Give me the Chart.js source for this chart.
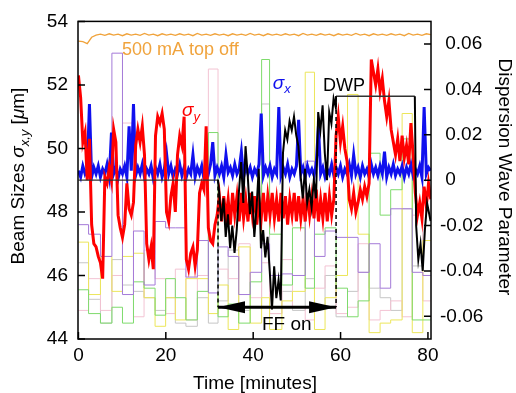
<!DOCTYPE html>
<html>
<head>
<meta charset="utf-8">
<script src="https://cdn.jsdelivr.net/npm/chart.js@4.4.0/dist/chart.umd.min.js"></script>
<style>
  html, body { margin: 0; padding: 0; background: #fff; }
  #wrap { width: 516px; height: 393px; }
</style>
</head>
<body>
<div id="wrap"><canvas id="beamChart" width="516" height="393"></canvas></div>
<script>
// sampling of the beam size monitors, minutes
const sampleStep = 0.504;
const sampleTimes = Array.from({ length: 161 }, (_, i) => +(i * sampleStep).toFixed(3));
const minuteTimes = sampleTimes.filter((_, i) => i % 2 === 0);

// sigma_y [um]
const sigmaY = [
  52.3, 51.6, 50.2, 50.5, 49.0, 50.3, 47.6, 47.0, 46.9, 46.6,
  46.4, 45.9, 49.1, 48.9, 49.4, 49.0, 50.6, 50.2, 47.9, 47.5,
  47.2, 47.6, 48.9, 48.1, 47.9, 48.3, 50.1, 50.6, 50.2, 50.7,
  49.8, 47.0, 46.5, 46.9, 46.2, 50.4, 51.0, 50.8, 51.1, 50.6,
  48.0, 47.7, 48.5, 48.9, 48.0, 49.8, 50.4, 50.1, 51.0, 46.5,
  46.2, 46.7, 46.9, 46.3, 46.8, 48.6, 48.9, 48.7, 50.7, 47.5,
  47.1, 47.0, 47.6, 47.9, 48.5, 47.7, 48.5, 47.8, 48.4, 47.6,
  48.6, 47.9, 48.5, 47.7, 48.6, 47.8, 48.4, 47.7, 48.6, 47.9,
  48.5, 47.6, 48.4, 47.8, 48.6, 47.7, 48.5, 47.9, 48.6, 47.8,
  48.4, 47.7, 48.6, 47.8, 48.5, 47.6, 48.4, 47.9, 48.6, 47.7,
  48.5, 47.8, 48.4, 47.7, 48.6, 47.9, 48.5, 47.8, 48.7, 47.7,
  48.4, 47.8, 48.6, 47.7, 48.5, 47.9, 48.4, 50.4, 51.0, 50.2,
  50.7, 50.0, 49.6, 48.4, 48.1, 48.6, 48.0, 48.3, 48.7, 48.4,
  48.8, 48.5, 48.9, 52.8, 52.4, 52.0, 52.5, 51.8, 52.2, 51.5,
  51.0, 51.5, 50.6, 50.2, 49.8, 50.3, 49.6, 50.4, 49.7, 50.1,
  49.5, 50.8, 49.8, 48.6, 47.9, 48.3, 47.8, 48.8, 48.2, 48.9,
  48.4
];

// sigma_x [um]
const sigmaX = [
  49.3, 49.1, 49.45, 49.2, 49.35, 51.4, 49.1, 49.4, 49.2, 49.45,
  49.1, 49.35, 49.2, 49.5, 49.1, 50.5, 49.2, 49.4, 49.05, 49.35,
  49.2, 49.45, 49.1, 50.7, 49.3, 51.4, 49.15, 49.4, 49.2, 49.5,
  49.1, 49.35, 49.2, 49.45, 49.05, 49.4, 49.2, 49.5, 49.1, 49.35,
  49.85, 49.2, 49.45, 49.1, 49.35, 49.2, 49.5, 49.15, 49.4, 49.1,
  49.35, 49.2, 49.8, 49.1, 49.4, 49.2, 49.45, 49.05, 49.35, 49.2,
  49.5, 50.2, 49.15, 49.4, 49.2, 49.45, 49.1, 49.8, 49.25, 49.4,
  49.15, 49.5, 49.2, 49.35, 49.9, 49.1, 49.45, 49.2, 49.4, 49.1,
  49.35, 49.2, 49.5, 51.1, 49.15, 49.4, 49.2, 49.45, 49.1, 49.35,
  49.2, 51.3, 49.15, 49.4, 49.2, 49.5, 49.1, 49.35, 49.2, 49.45,
  50.9, 49.2, 49.4, 49.1, 49.45, 49.2, 49.35, 49.15, 49.5, 50.7,
  49.2, 49.4, 49.1, 49.35, 49.2, 49.5, 49.15, 49.4, 49.2, 49.45,
  49.1, 49.35, 49.2, 49.5, 49.15, 49.8, 49.2, 49.4, 49.1, 49.45,
  49.2, 49.35, 49.1, 49.5, 49.2, 49.4, 49.15, 49.45, 49.2, 49.9,
  49.1, 49.4, 49.2, 49.5, 49.15, 49.35, 49.2, 49.45, 49.1, 49.4,
  49.2, 49.5, 49.15, 49.35, 49.2, 49.45, 49.1, 51.3, 49.2, 49.4,
  49.3
];

// 500 mA top off current trace (plotted on the beam size axis)
const topOff = [
  53.38, 53.36, 53.30, 53.50, 53.57, 53.6, 53.56, 53.61, 53.57, 53.6,
  53.55, 53.61, 53.57, 53.6, 53.56, 53.62, 53.57, 53.6, 53.55, 53.61,
  53.57, 53.6, 53.56, 53.61, 53.57, 53.6, 53.55, 53.62, 53.57, 53.6,
  53.56, 53.61, 53.57, 53.6, 53.55, 53.61, 53.57, 53.6, 53.56, 53.62,
  53.57, 53.6, 53.55, 53.61, 53.57, 53.6, 53.56, 53.61, 53.57, 53.6,
  53.55, 53.62, 53.57, 53.6, 53.56, 53.61, 53.57, 53.6, 53.55, 53.61,
  53.57, 53.6, 53.56, 53.62, 53.57, 53.6, 53.55, 53.61, 53.57, 53.6,
  53.56, 53.61, 53.57, 53.6, 53.55, 53.62, 53.57, 53.6, 53.56, 53.61,
  53.58
];

// dispersion wave parameter (right axis)
const dwpTimes = [
  0, 31.95,
  32.20, 32.70, 33.21, 33.71, 34.22, 34.72, 35.22, 35.73, 36.23, 36.74,
  37.24, 37.74, 38.25, 38.75, 39.26, 39.76, 40.26, 40.77, 41.27, 41.78,
  42.28, 42.78, 43.29, 43.79, 44.30, 44.80, 45.30, 45.81, 46.31, 46.82,
  47.32, 47.82, 48.33, 48.83, 49.34, 49.84, 50.34, 50.85, 51.35, 51.86,
  52.36, 52.86, 53.37, 53.87, 54.38, 54.88, 55.38, 55.89, 56.39, 56.90,
  57.40, 57.90, 58.41, 58.91,
  58.97, 77.0,
  77.3, 77.8, 78.3, 78.8, 79.3, 79.8, 80.6
];
const dwpValues = [
  0, 0,
  -0.005, -0.018, -0.008, -0.025, -0.015, -0.03, -0.02, -0.032, -0.022, -0.005,
  0.008, -0.01, 0.015, 0.002, -0.015, -0.005, -0.025, -0.012, 0.005, -0.03,
  -0.022, -0.034, -0.025, -0.04, -0.057, -0.038, -0.052, -0.044, -0.053, 0.012,
  0.022, 0.018, 0.026, 0.022, 0.028, 0.02, 0.015, 0.002, -0.008, 0.005,
  -0.01, -0.004, -0.012, 0, -0.008, 0.03, 0.022, 0.033, 0.012, 0,
  0.03, 0.025, 0.036, 0.032,
  0.037, 0.037,
  -0.02, -0.035, -0.028, -0.04, -0.022, -0.01, -0.018
];

// knob settings, held between change times
const knobTimes = [0, 2.32, 5.04, 7.66, 10.08, 12.6, 15.02, 17.54, 19.96, 22.18, 24.6, 27.22,
  29.74, 31.95, 34.27, 36.69, 39.31, 41.93, 43.75, 46.57, 48.99, 51.91, 54.03, 56.45, 58.97,
  61.59, 64.01, 66.53, 69.05, 71.47, 74.09, 76.41, 78.83, 80.64];
const knobPurple = [47.6, 47.3, 46.6, 53.0, 45.4, 47.4, 45.7, 47.7, 47.5, 47.5, 45.95, 47.1, 45.45,
  46.9, 46.6, 45.4, 46.1, 47.0, 46.0, 46.05, 46.0, 49.6, 46.6, 47.4, 47.2, 47.2, 46.1, 47.0, 45.6,
  48.1, 48.1, 46.1, 46.0];
const knobGreen = [45.55, 44.8, 44.5, 45.0, 44.5, 45.8, 45.6, 44.75, 45.9, 45.3, 44.6, 45.5, 50.5,
  44.7, 45.1, 44.5, 45.8, 52.8, 47.3, 45.7, 47.5, 45.6, 47.3, 47.5, 45.6, 44.7, 45.2, 49.85, 47.9,
  48.7, 50.3, 44.6, 44.6];
const knobYellow = [47.05, 45.4, 46.6, 45.5, 46.6, 46.7, 45.3, 44.4, 45.3, 44.6, 45.9, 45.9, 44.8,
  45.7, 44.3, 46.9, 44.5, 45.3, 44.3, 45.2, 45.5, 52.4, 44.3, 45.3, 46.0, 51.7, 47.3, 44.2, 44.5,
  44.6, 51.1, 44.2, 47.1];
const knobPink = [44.9, 45.9, 44.9, 46.0, 50.8, 44.7, 46.8, 45.9, 44.8, 46.2, 44.6, 46.0, 52.5,
  46.2, 45.9, 47.0, 45.3, 46.4, 44.8, 46.5, 45.0, 44.6, 45.6, 46.3, 44.8, 45.0, 47.0, 44.6, 44.9,
  45.2, 44.7, 47.9, 45.2];
const knobGray = [46.4, 45.25, 44.5, 46.5, 45.7, 45.5, 45.3, 44.9, 45.3, 44.5, 44.4, 45.3, 44.5,
  45.2, 46.8, 44.9, 45.0, 51.4, 44.8, 45.5, 44.9, 45.9, 45.0, 46.0, 44.7, 45.5, 46.1, 45.6, 45.3,
  44.9, 48.1, 46.3, 49.0];

// feed-forward on interval
const ffOnStart = 31.95;
const ffOnEnd = 58.97;
const ffArrowLevel = 45.0;
const ffMarkTops = [49.02, 51.65];

const timeTicks = [0, 20, 40, 60, 80];
const sizeTicks = [44, 46, 48, 50, 52, 54];
const dwpTicks = [-0.06, -0.04, -0.02, 0, 0.02, 0.04, 0.06];

const FONT = '"Liberation Sans", Arial, Helvetica, sans-serif';
Chart.defaults.font.family = FONT;
Chart.defaults.color = '#000';

const xy = (xs, ys) => xs.map((x, i) => ({ x: x, y: ys[i] }));
const steps = vals => knobTimes.map((x, i) => ({ x: x, y: vals[Math.min(i, vals.length - 1)] }));

function line(data, color, width, axis, extra) {
  return Object.assign({
    data: data, borderColor: color, borderWidth: width, yAxisID: axis,
    pointRadius: 0, fill: false, tension: 0, borderJoinStyle: 'miter'
  }, extra || {});
}

// draws text made of several font runs
function drawRuns(ctx, runs, x, y, centered) {
  let total = 0;
  runs.forEach(r => { ctx.font = r[1]; total += ctx.measureText(r[0]).width; });
  let cx = centered ? x - total / 2 : x;
  runs.forEach(r => {
    ctx.font = r[1];
    ctx.fillText(r[0], cx, y + (r[2] || 0));
    cx += ctx.measureText(r[0]).width;
  });
}

const decorations = {
  id: 'decorations',
  afterDatasetsDraw(chart) {
    const { ctx, chartArea: a } = chart;
    const { x, y, y2 } = chart.scales;
    ctx.save();
    ctx.strokeStyle = '#000';
    ctx.lineWidth = 1.5;
    ctx.strokeRect(a.left, a.top, a.right - a.left, a.bottom - a.top);

    // inward tick marks
    ctx.beginPath();
    timeTicks.forEach(v => { const p = x.getPixelForValue(v); ctx.moveTo(p, a.bottom); ctx.lineTo(p, a.bottom - 7); });
    sizeTicks.forEach(v => { const p = y.getPixelForValue(v); ctx.moveTo(a.left, p); ctx.lineTo(a.left + 7, p); });
    dwpTicks.forEach(v => { const p = y2.getPixelForValue(v); ctx.moveTo(a.right, p); ctx.lineTo(a.right - 7, p); });
    ctx.stroke();

    // arrow heads of the FF on span
    const ay = y.getPixelForValue(ffArrowLevel);
    ctx.fillStyle = '#000';
    [[x.getPixelForValue(ffOnStart), 1], [x.getPixelForValue(ffOnEnd), -1]].forEach(([tip, dir]) => {
      ctx.beginPath();
      ctx.moveTo(tip, ay);
      ctx.lineTo(tip + dir * 27, ay - 6);
      ctx.lineTo(tip + dir * 27, ay + 6);
      ctx.closePath();
      ctx.fill();
    });

    // labels inside the plot
    ctx.textBaseline = 'alphabetic';
    ctx.textAlign = 'left';
    ctx.fillStyle = '#f0a33c';
    ctx.font = '18px ' + FONT;
    ctx.fillText('500 mA top off', x.getPixelForValue(9.97), y.getPixelForValue(52.95));

    ctx.fillStyle = '#f00';
    drawRuns(ctx, [['σ', 'italic 19px ' + FONT], ['y', 'italic 13px ' + FONT, 5]],
      x.getPixelForValue(23.7), y.getPixelForValue(51.03));

    ctx.fillStyle = '#1010ee';
    drawRuns(ctx, [['σ', 'italic 19px ' + FONT], ['x', 'italic 13px ' + FONT, 4]],
      x.getPixelForValue(44.5), y.getPixelForValue(51.86));

    ctx.fillStyle = '#000';
    ctx.font = '18px ' + FONT;
    ctx.fillText('DWP', x.getPixelForValue(56.0), y.getPixelForValue(51.8));
    ctx.font = '19px ' + FONT;
    ctx.fillText('FF on', x.getPixelForValue(42.0), y.getPixelForValue(44.28));
    ctx.restore();
  },
  afterDraw(chart) {
    const ctx = chart.ctx;
    ctx.save();
    ctx.fillStyle = '#000';
    ctx.textBaseline = 'alphabetic';
    ctx.textAlign = 'left';

    // left axis title
    ctx.save();
    ctx.translate(24, 176);
    ctx.rotate(-Math.PI / 2);
    drawRuns(ctx, [
      ['Beam Sizes ', '19px ' + FONT],
      ['σ', 'italic 19px ' + FONT],
      ['x,y', 'italic 13px ' + FONT, 5],
      [' [', '19px ' + FONT],
      ['μ', 'italic 19px ' + FONT],
      ['m]', '19px ' + FONT]
    ], 0, 0, true);
    ctx.restore();

    // right axis title
    ctx.save();
    ctx.translate(499, 177);
    ctx.rotate(Math.PI / 2);
    drawRuns(ctx, [['Dispersion Wave Parameter', '19px ' + FONT]], 0, 0, true);
    ctx.restore();

    // bottom axis title
    drawRuns(ctx, [['Time [minutes]', '19px ' + FONT]], 255, 389, true);
    ctx.restore();
  }
};

new Chart(document.getElementById('beamChart'), {
  type: 'line',
  data: {
    // first listed is drawn on top
    datasets: [
      line([{ x: ffOnStart, y: ffArrowLevel }, { x: ffOnEnd, y: ffArrowLevel }], '#000', 3, 'y'),
      line([{ x: ffOnStart, y: ffMarkTops[0] }, { x: ffOnStart, y: ffArrowLevel }], '#000', 1.5, 'y', { borderDash: [4, 3] }),
      line([{ x: ffOnEnd, y: ffMarkTops[1] }, { x: ffOnEnd, y: ffArrowLevel }], '#000', 1.5, 'y', { borderDash: [4, 3] }),
      line(xy(dwpTimes, dwpValues), '#000', 2, 'y2', {
        segment: {
          borderColor: c => (c.p1.parsed.x - c.p0.parsed.x > 5 ? '#333' : undefined),
          borderWidth: c => (c.p1.parsed.x - c.p0.parsed.x > 5 ? 1.3 : undefined)
        }
      }),
      line(xy(sampleTimes, sigmaY), '#f00', 3, 'y'),
      line(xy(sampleTimes, sigmaX), '#1010ee', 3, 'y'),
      line(xy(minuteTimes, topOff), '#f0a33c', 1.3, 'y'),
      line(steps(knobPurple), '#a47ad8', 1, 'y', { stepped: true }),
      line(steps(knobGreen), '#7edb6c', 1, 'y', { stepped: true }),
      line(steps(knobYellow), '#ece65a', 1, 'y', { stepped: true }),
      line(steps(knobPink), '#f3c3d3', 1, 'y', { stepped: true }),
      line(steps(knobGray), '#c6c6c6', 1, 'y', { stepped: true })
    ]
  },
  options: {
    responsive: false,
    animation: false,
    devicePixelRatio: 1,
    parsing: false,
    layout: { padding: { top: 16, left: 0, right: 0, bottom: 0 } },
    plugins: { legend: { display: false }, tooltip: { enabled: false } },
    scales: {
      x: {
        type: 'linear', min: -0.1, max: 80.7,
        grid: { display: false, drawTicks: false }, border: { display: false },
        afterBuildTicks: s => { s.ticks = timeTicks.map(v => ({ value: v })); },
        afterFit: s => { s.height = 54; },
        ticks: { padding: 5, font: { size: 19 }, maxRotation: 0, autoSkip: false }
      },
      y: {
        type: 'linear', position: 'left', min: 44, max: 54,
        grid: { display: false, drawTicks: false }, border: { display: false },
        afterBuildTicks: s => { s.ticks = sizeTicks.map(v => ({ value: v })); },
        afterFit: s => { s.width = 78; },
        ticks: { padding: 10, font: { size: 19 }, autoSkip: false }
      },
      y2: {
        type: 'linear', position: 'right', min: -0.07, max: 0.07,
        grid: { display: false, drawTicks: false }, border: { display: false },
        afterBuildTicks: s => { s.ticks = dwpTicks.map(v => ({ value: v })); },
        afterFit: s => { s.width = 85; },
        ticks: {
          padding: 9, font: { size: 19 }, autoSkip: false,
          callback: v => (v < 0 ? '' : ' ') + (v === 0 ? '0' : v.toFixed(2))
        }
      }
    }
  },
  plugins: [decorations]
});
</script>
</body>
</html>
